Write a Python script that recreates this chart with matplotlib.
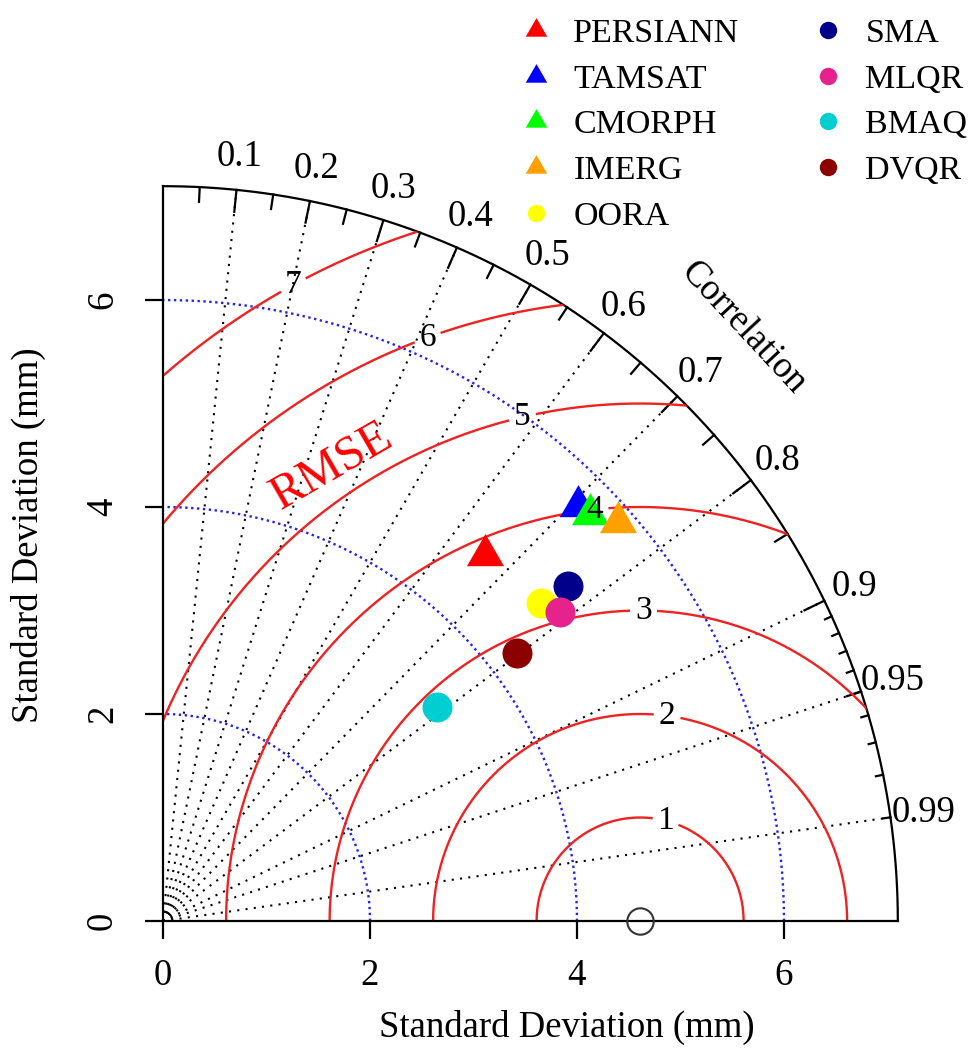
# Taylor diagram of satellite / merged rainfall products against gauge reference
import numpy as np
import matplotlib.pyplot as plt
from matplotlib.patches import Wedge

plt.rcParams['font.family'] = ['Liberation Serif', 'DejaVu Serif']

# model statistics
models = ['PERSIANN', 'TAMSAT', 'CMORPH', 'IMERG', 'OORA', 'SMA', 'MLQR', 'BMAQ', 'DVQR']
std_dev = [4.71, 5.67, 5.70, 5.85, 4.77, 5.08, 4.86, 3.36, 4.29]
correlation = [0.660, 0.707, 0.724, 0.752, 0.765, 0.771, 0.789, 0.789, 0.797]
colors = ['#ff0000', '#0000ff', '#00ff00', '#ffa000', '#ffff00',
          '#00008b', '#e6228c', '#00ced1', '#8b0000']
shapes = ['tri', 'tri', 'tri', 'tri', 'o', 'o', 'o', 'o', 'o']

ref_sd = 4.61
max_sd = 7.1
rmse_levels = [1, 2, 3, 4, 5, 6, 7]
sd_arcs = [2, 4, 6]
corr_lines = [0.1, 0.2, 0.3, 0.4, 0.5, 0.6, 0.7, 0.8, 0.9, 0.95, 0.99]
corr_labels = ['0.1', '0.2', '0.3', '0.4', '0.5', '0.6', '0.7', '0.8', '0.9', '0.95', '0.99']

tri = [(0, 1), (-0.866, -0.5), (0.866, -0.5)]

fig = plt.figure(figsize=(9.71, 10.52), dpi=100)
ax = fig.add_axes([163 / 971, 131 / 1052, 808.3 / 971, 808.3 / 1052])
ax.set_xlim(0, 7.81)
ax.set_ylim(0, 7.81)

for side in ['top', 'right']:
    ax.spines[side].set_visible(False)
for side in ['left', 'bottom']:
    ax.spines[side].set_bounds(0, max_sd)
    ax.spines[side].set_linewidth(1.6)

ax.set_xticks([0, 2, 4, 6])
ax.set_yticks([0, 2, 4, 6])
ax.tick_params(direction='out', length=13, width=1.6, labelsize=26.5, pad=14)
ax.tick_params(axis='y', labelrotation=90, pad=18)
for lbl in ax.get_yticklabels():
    lbl.set_va('center')

ax.set_xlabel('Standard Deviation (mm)', fontsize=26.5)
ax.xaxis.set_label_coords(0.5, (921 - 1027) / 808.3)
ax.xaxis.label.set_va('center')
ax.set_ylabel('Standard Deviation (mm)', fontsize=26.5)
ax.yaxis.set_label_coords((28 - 163) / 808.3, (921 - 535) / 808.3)
ax.yaxis.label.set_va('center')

# outer arc
th = np.linspace(0, np.pi / 2, 400)
ax.plot(max_sd * np.cos(th), max_sd * np.sin(th), color='black', lw=1.6, clip_on=False)

# correlation ticks on the outer arc
big = np.arange(0.1, 0.91, 0.1)
med = np.arange(0.05, 0.96, 0.1)
sml = np.arange(0.91, 0.995, 0.01)
for vals, frac in [(big, 0.97), (med, 0.98), (sml, 0.99)]:
    for c in vals:
        s = np.sqrt(1 - c ** 2)
        ax.plot([max_sd * c, frac * max_sd * c], [max_sd * s, frac * max_sd * s],
                color='black', lw=1.6, clip_on=False)

# correlation lines and labels
for c, lab in zip(corr_lines, corr_labels):
    s = np.sqrt(1 - c ** 2)
    ax.plot([0, max_sd * c], [0, max_sd * s], color='black', lw=1.5,
            linestyle=(0, (1, 3)), zorder=1.5)
    ax.text(1.045 * max_sd * c, 1.045 * max_sd * s, lab, fontsize=26.5,
            ha='center', va='center', clip_on=False)

# standard deviation arcs
th = np.linspace(0, np.pi / 2, 400)
for r in sd_arcs:
    ax.plot(r * np.cos(th), r * np.sin(th), color='#2222ee', lw=1.7,
            linestyle=(0, (1, 1.5)), zorder=1.6)

# RMSE contours around the reference point, with a gap for each label
clip = Wedge((0, 0), max_sd, 0, 90, transform=ax.transData)
step = np.arange(0, np.pi, 0.03)
label_idx = [44, 48, 52, 56, 60, 64, 69]
for r, idx in zip(rmse_levels, label_idx):
    ang = step[idx]
    th = np.linspace(0, np.pi, 3000)
    xs = ref_sd + r * np.cos(th)
    ys = r * np.sin(th)
    gap = np.abs(th - ang) < 0.14 / r
    xs[gap] = np.nan
    line, = ax.plot(xs, ys, color='#ee2222', lw=1.7, zorder=2)
    line.set_clip_path(clip)
    ax.text(ref_sd + r * np.cos(ang), r * np.sin(ang), str(r), fontsize=24,
            ha='center', va='center', zorder=6)

ax.text(1.63, 4.39, 'RMSE', color='#ff0000', fontsize=35, rotation=30,
        ha='center', va='center')
ax.text(5.61, 5.73, 'Correlation', fontsize=26.5, rotation=-47,
        ha='center', va='center', clip_on=False)

# reference point
ax.plot([ref_sd], [0], marker='o', ms=19, mfc='none', mec='#333333', mew=1.5,
        linestyle='none', clip_on=False, zorder=5)

# model points
for name, sd, r, col, shp in zip(models, std_dev, correlation, colors, shapes):
    x = sd * r
    y = sd * np.sqrt(1 - r ** 2)
    if shp == 'tri':
        ax.plot([x], [y], marker=tri, ms=30.8, color=col, mew=0,
                linestyle='none', label=name, zorder=4)
    else:
        ax.plot([x], [y], marker='o', ms=21.6, color=col, mew=0,
                linestyle='none', label=name, zorder=4)

ax.legend(ncol=2, loc='upper left', bbox_to_anchor=(519 / 971, 1 - 18 / 1052),
          bbox_transform=fig.transFigure, frameon=False, fontsize=24.5,
          markerscale=0.58, handlelength=1.0, handletextpad=0.6,
          labelspacing=0.44, columnspacing=2.1, borderpad=0, borderaxespad=0)

fig.savefig('out.png', dpi=100)
